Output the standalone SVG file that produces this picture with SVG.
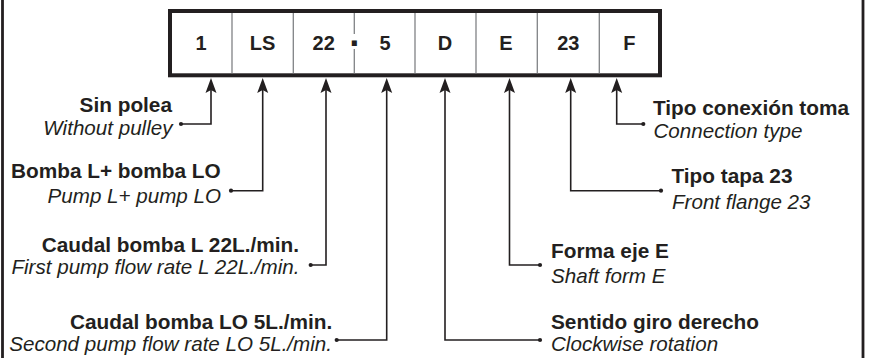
<svg xmlns="http://www.w3.org/2000/svg" width="870" height="358" viewBox="0 0 870 358">
<style>
.frame{stroke:#231f20;stroke-width:2.8;fill:none}
.box{stroke:#231f20;stroke-width:4;fill:#fff}
.div{stroke:#808285;stroke-width:1.3;fill:none}
.cell{font-family:"Liberation Sans",Arial,sans-serif;font-weight:bold;font-size:20px;fill:#231f20;text-anchor:middle}
.b{font-family:"Liberation Sans",Arial,sans-serif;font-weight:bold;font-size:20.8px;fill:#231f20}
.i{font-family:"Liberation Sans",Arial,sans-serif;font-style:italic;font-size:20.6px;fill:#231f20}
.e{text-anchor:end}
.conn{stroke:#231f20;stroke-width:1.6;fill:none;marker-start:url(#dot);marker-end:url(#arrow)}
</style>
<defs>
<marker id="arrow" markerUnits="userSpaceOnUse" markerWidth="20" markerHeight="14" viewBox="0 -7 20 14" refX="3" refY="0" orient="auto">
<path d="M0,-5.5 L15,0 L0,5.5 L3,0 z" fill="#231f20"/>
</marker>
<marker id="dot" markerUnits="userSpaceOnUse" markerWidth="6" markerHeight="6" viewBox="-3 -3 6 6" refX="0" refY="0">
<circle cx="0" cy="0" r="2.1" fill="#231f20"/>
</marker>
</defs>
<rect width="870" height="358" fill="#fff"/>
<g id="frame">
<line class="frame" x1="2.5" y1="0" x2="2.5" y2="358"/>
<line class="frame" x1="863" y1="0" x2="863" y2="358"/>
</g>
<g id="code-box">
<rect class="box" x="170" y="11" width="490" height="64.3"/>
<line class="div" x1="232" y1="13" x2="232" y2="73.3"/>
<line class="div" x1="293.3" y1="13" x2="293.3" y2="73.3"/>
<line class="div" x1="354.3" y1="13" x2="354.3" y2="34"/>
<line class="div" x1="354.3" y1="49" x2="354.3" y2="73.3"/>
<line class="div" x1="415" y1="13" x2="415" y2="73.3"/>
<line class="div" x1="476" y1="13" x2="476" y2="73.3"/>
<line class="div" x1="537.3" y1="13" x2="537.3" y2="73.3"/>
<line class="div" x1="599.3" y1="13" x2="599.3" y2="73.3"/>
<text class="cell" x="201" y="49.5">1</text>
<text class="cell" x="262.5" y="49.5">LS</text>
<text class="cell" x="323.7" y="49.5">22</text>
<text class="cell" transform="translate(354.3,55) scale(1,2.3)" x="0" y="0">-</text>
<text class="cell" x="385" y="49.5">5</text>
<text class="cell" x="445" y="49.5">D</text>
<text class="cell" x="506" y="49.5">E</text>
<text class="cell" x="568.3" y="49.5">23</text>
<text class="cell" x="629.3" y="49.5">F</text>
</g>
<g id="connectors">
<path class="conn" d="M181,124 H211 V90"/>
<path class="conn" d="M231,190.7 H262.7 V90"/>
<path class="conn" d="M310.7,265 H326 V90"/>
<path class="conn" d="M336.7,340 H386.7 V90"/>
<path class="conn" d="M540,340 H445 V90"/>
<path class="conn" d="M540,265 H509.5 V90"/>
<path class="conn" d="M661,190.7 H570.7 V90"/>
<path class="conn" d="M643.3,124 H616.7 V90"/>
</g>
<g id="label-sin-polea">
<text class="b e" x="172" y="112">Sin polea</text>
<text class="i e" x="172.5" y="135">Without pulley</text>
</g>
<g id="label-bomba">
<text class="b e" x="220.7" y="178">Bomba L+ bomba LO</text>
<text class="i e" x="221" y="203">Pump L+ pump LO</text>
</g>
<g id="label-caudal-l">
<text class="b e" x="299" y="251.5">Caudal bomba L 22L./min.</text>
<text class="i e" x="299.5" y="273.5">First pump flow rate L 22L./min.</text>
</g>
<g id="label-caudal-lo">
<text class="b e" x="332.3" y="328.5">Caudal bomba LO 5L./min.</text>
<text class="i e" x="332" y="351">Second pump flow rate LO 5L./min.</text>
</g>
<g id="label-sentido">
<text class="b" x="551" y="328.5">Sentido giro derecho</text>
<text class="i" x="551" y="351">Clockwise rotation</text>
</g>
<g id="label-forma">
<text class="b" x="551" y="258.3">Forma eje E</text>
<text class="i" x="551" y="283">Shaft form E</text>
</g>
<g id="label-tapa">
<text class="b" x="671.5" y="183.3">Tipo tapa 23</text>
<text class="i" x="672" y="209.3">Front flange 23</text>
</g>
<g id="label-conexion">
<text class="b" x="653" y="114.5">Tipo conexión toma</text>
<text class="i" x="653.5" y="137.7">Connection type</text>
</g>
</svg>
